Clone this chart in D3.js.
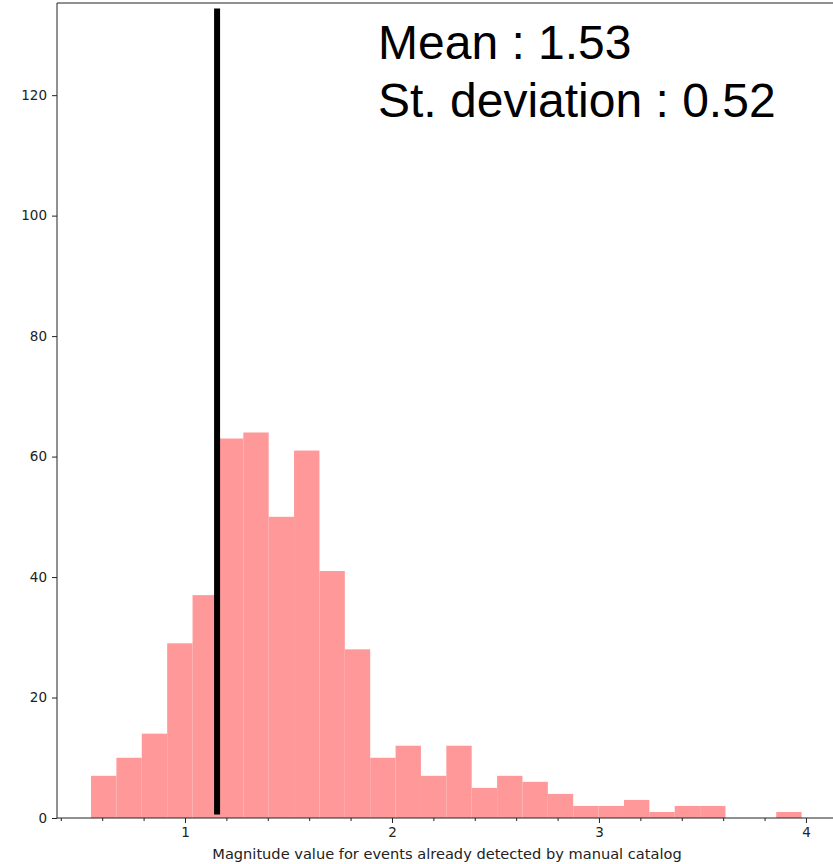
<!DOCTYPE html>
<html>
<head>
<meta charset="utf-8">
<script src="https://cdn.jsdelivr.net/npm/d3@7"></script>
<style>
  html, body { margin: 0; padding: 0; background: #fff; }
  svg { display: block; }
</style>
</head>
<body>
<div id="chart"></div>
<script>
// ---- data ----
const binStart = 0.546;
const binWidth = 0.12261;
const counts = [7, 10, 14, 29, 37, 63, 64, 50, 61, 41, 28, 10, 12, 7, 12, 5, 7, 6, 4, 2, 2, 3, 1, 2, 2, 0, 0, 1];
const xMajorTicks = [1, 2, 3, 4];
const xMinorTicks = [0.4, 0.6, 0.8, 1.2, 1.4, 1.6, 1.8, 2.2, 2.4, 2.6, 2.8, 3.2, 3.4, 3.6, 3.8];
const yTicks = [0, 20, 40, 60, 80, 100, 120];
const markerX = 1.155;
const markerY = [0.6, 134.4];
const statLines = ["Mean : 1.53", "St. deviation : 0.52"];
const xLabel = "Magnitude value for events already detected by manual catalog";

// ---- layout ----
const W = 833, H = 864;
const mLeft = 57, mRight = 837, mTop = 3, mBottom = 818;

const svg = d3.select("#chart").append("svg").attr("width", W).attr("height", H);

const x = d3.scaleLinear().domain([0.3816, 4.15]).range([mLeft, mRight]);
const y = d3.scaleLinear().domain([0, 135.3]).range([mBottom, mTop]);

const bins = counts.map((c, i) => ({ x0: binStart + i * binWidth, x1: binStart + (i + 1) * binWidth, c }));

svg.append("g").selectAll("rect").data(bins).join("rect")
  .attr("x", d => x(d.x0))
  .attr("width", d => x(d.x1) - x(d.x0))
  .attr("y", d => y(d.c))
  .attr("height", d => y(0) - y(d.c))
  .attr("fill", "#ff9999");

// marker line
svg.append("line")
  .attr("x1", x(markerX)).attr("x2", x(markerX))
  .attr("y1", y(markerY[0])).attr("y2", y(markerY[1]))
  .attr("stroke", "#000").attr("stroke-width", 6);

// spines
const spineColor = "#222";
svg.append("line").attr("x1", mLeft).attr("x2", mLeft).attr("y1", mTop).attr("y2", mBottom)
  .attr("stroke", spineColor).attr("stroke-width", 1);
svg.append("line").attr("x1", mLeft).attr("x2", mRight).attr("y1", mTop).attr("y2", mTop)
  .attr("stroke", spineColor).attr("stroke-width", 1);
svg.append("line").attr("x1", mLeft).attr("x2", mRight).attr("y1", mBottom).attr("y2", mBottom)
  .attr("stroke", spineColor).attr("stroke-width", 1);

const fontFam = "'DejaVu Sans', sans-serif";

// x axis major
const gx = svg.append("g").attr("transform", `translate(0,${mBottom})`)
  .call(d3.axisBottom(x).tickValues(xMajorTicks).tickFormat(d3.format("d")).tickSize(5).tickPadding(4));
gx.select(".domain").remove();
gx.selectAll("text").attr("font-family", fontFam).attr("font-size", 13.5).attr("fill", "#222");
gx.selectAll("line").attr("stroke", spineColor);

// x axis minor
const gxm = svg.append("g").attr("transform", `translate(0,${mBottom})`)
  .call(d3.axisBottom(x).tickValues(xMinorTicks).tickFormat("").tickSize(3));
gxm.select(".domain").remove();
gxm.selectAll("line").attr("stroke", spineColor);

// y axis
const gy = svg.append("g").attr("transform", `translate(${mLeft},0)`)
  .call(d3.axisLeft(y).tickValues(yTicks).tickFormat(d3.format("d")).tickSize(5).tickPadding(5));
gy.select(".domain").remove();
gy.selectAll("text").attr("font-family", fontFam).attr("font-size", 13.5).attr("fill", "#222");
gy.selectAll("line").attr("stroke", spineColor);

// x label
svg.append("text")
  .attr("x", 447).attr("y", 859)
  .attr("text-anchor", "middle")
  .attr("font-family", fontFam).attr("font-size", 14.6).attr("fill", "#222")
  .text(xLabel);

// stats text
svg.append("g").selectAll("text").data(statLines).join("text")
  .attr("x", 378)
  .attr("y", (d, i) => 59 + i * 58)
  .attr("font-family", "'Liberation Sans', Arial, sans-serif")
  .attr("font-size", 48)
  .attr("fill", "#000")
  .text(d => d);
</script>
</body>
</html>
